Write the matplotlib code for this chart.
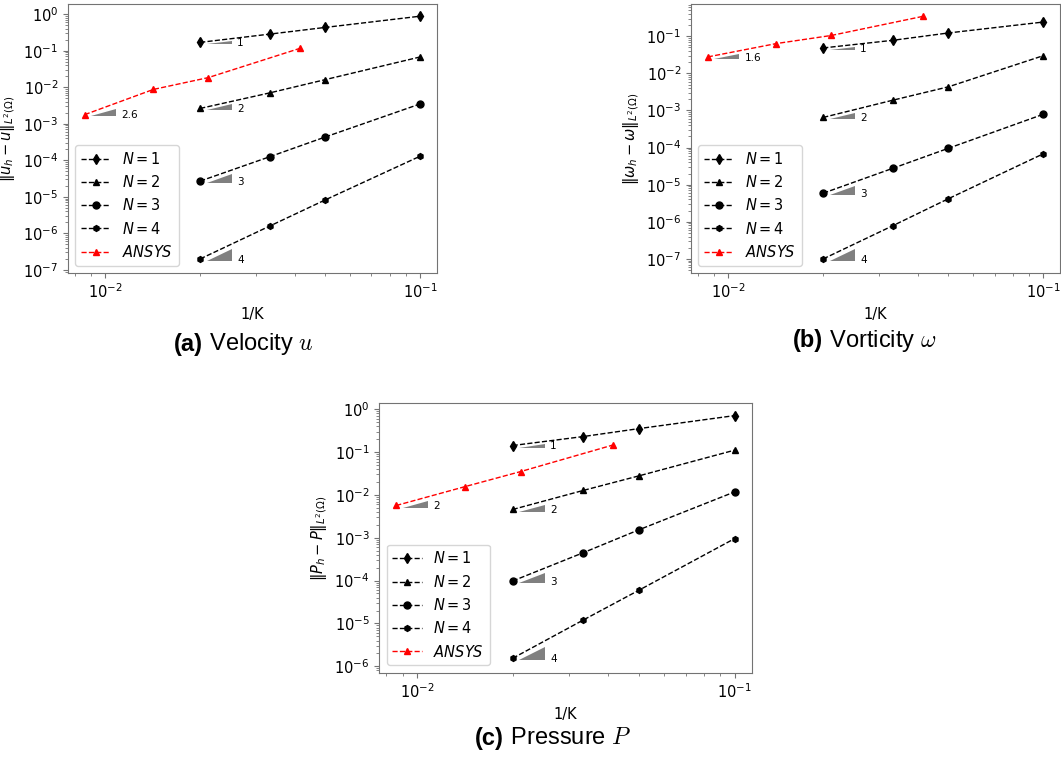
import numpy as np
import matplotlib.pyplot as plt

# mesh size 1/K for the DG runs and for the ANSYS runs
h = [0.02, 1 / 30, 0.05, 0.1]
h_ansys = [0.0086, 0.0142, 0.0212, 0.0415]

# (a) velocity errors
u_err = [
    [0.169, 0.285, 0.434, 0.88],
    [0.00263, 0.00703, 0.0162, 0.0675],
    [2.7e-5, 1.26e-4, 4.37e-4, 3.5e-3],
    [2.0e-7, 1.6e-6, 8.3e-6, 1.3e-4],
]
u_ansys = [1.78e-3, 8.7e-3, 0.0183, 0.116]

# (b) vorticity errors
w_err = [
    [0.0485, 0.078, 0.123, 0.242],
    [6.5e-4, 1.9e-3, 4.35e-3, 0.030],
    [5.9e-6, 2.78e-5, 9.6e-5, 7.9e-4],
    [1.0e-7, 7.9e-7, 4.2e-6, 6.8e-5],
]
w_ansys = [0.0278, 0.0637, 0.105, 0.345]

# (c) pressure errors
p_err = [
    [0.142, 0.23, 0.353, 0.71],
    [4.57e-3, 0.0127, 0.0279, 0.111],
    [9.8e-5, 4.47e-4, 1.54e-3, 0.0118],
    [1.54e-6, 1.2e-5, 6.0e-5, 9.6e-4],
]
p_ansys = [5.66e-3, 0.0157, 0.0351, 0.147]

orders = [1, 2, 3, 4]
ansys_rates = {'u': 2.6, 'w': 1.6, 'p': 2}

markers = ['d', '^', 'o', 'h']
marker_sizes = [5.5, 5, 5, 4.2]
labels = ['$N=1$', '$N=2$', '$N=3$', '$N=4$']


def slope_triangle(ax, x0, y0, rate, label):
    # little gray triangle showing the convergence rate
    x1 = x0 * 1.05
    x2 = x1 * 1.2
    y1 = y0 * 0.89
    y2 = y1 * 1.2 ** rate
    ax.fill([x1, x2, x2], [y1, y1, y2], color='gray', lw=0)
    ax.text(x2 * 1.04, y1 * 1.08, label, fontsize=7.5, ha='left', va='center')


def panel(ax, errs, ansys, rate, ylabel):
    for i in range(4):
        ax.loglog(h, errs[i], '--', color='black', marker=markers[i],
                  ms=marker_sizes[i], lw=1, label=labels[i])
        slope_triangle(ax, h[0], errs[i][0], orders[i], str(orders[i]))
    ax.loglog(h_ansys, ansys, '--', color='red', marker='^', ms=5, lw=1,
              label='$ANSYS$')
    slope_triangle(ax, h_ansys[0], ansys[0], rate, str(rate))
    ax.set_xlabel('1/K', fontsize=10.5)
    ax.set_ylabel(ylabel, fontsize=10.5)
    ax.tick_params(labelsize=10.5, which='both', color='0.45')
    for s in ax.spines.values():
        s.set_color('0.45')
    ax.legend(loc='lower left', fontsize=10.5)


fig = plt.figure(figsize=(10.61, 7.60), dpi=100)
ax_a = fig.add_axes([0.0641, 0.6408, 0.3478, 0.354])
ax_b = fig.add_axes([0.6513, 0.6408, 0.3478, 0.3538])
ax_c = fig.add_axes([0.3575, 0.1149, 0.351, 0.3544])

panel(ax_a, u_err, u_ansys, ansys_rates['u'], r'$\|u_h - u\|_{L^2(\Omega)}$')
panel(ax_b, w_err, w_ansys, ansys_rates['w'], r'$\|\omega_h - \omega\|_{L^2(\Omega)}$')
panel(ax_c, p_err, p_ansys, ansys_rates['p'], r'$\|P_h - P\|_{L^2(\Omega)}$')

# captions under each panel
captions = [
    ('(a)', ' Velocity $u$', 203, 344),
    ('(b)', ' Vorticity $\\omega$', 823, 341),
    ('(c)', ' Pressure $P$', 504, 738),
]
for tag, name, px, py in captions:
    fx, fy = px / 1061, 1 - py / 760
    fig.text(fx, fy, tag, ha='right', va='center', fontsize=17,
             weight='bold', family='Liberation Sans')
    fig.text(fx, fy, name, ha='left', va='center', fontsize=17,
             family='Liberation Sans', math_fontfamily='cm')

fig.savefig('out.png', dpi=100)
